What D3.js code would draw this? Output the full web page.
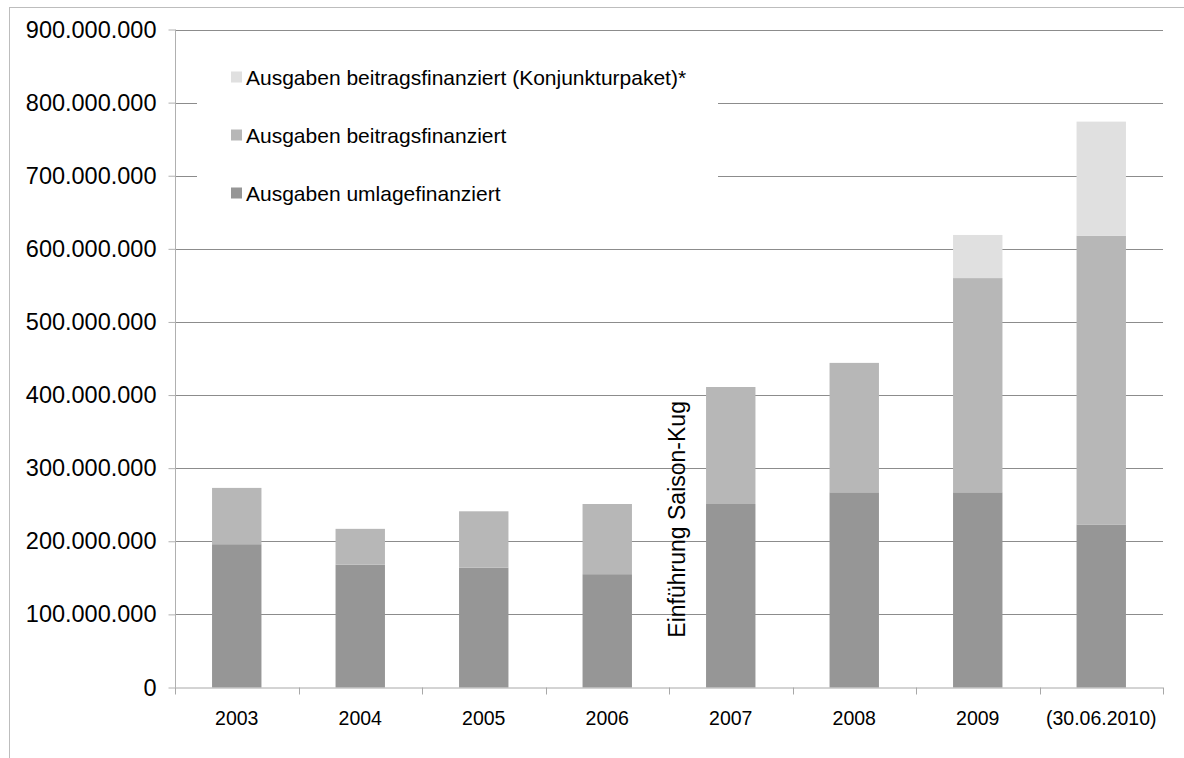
<!DOCTYPE html>
<html lang="de">
<head>
<meta charset="UTF-8">
<title>Ausgaben Saison-Kug</title>
<script src="https://d3js.org/d3.v7.min.js"></script>
<style>
  body { margin: 0; background: #fff; }
  svg { display: block; font-family: "Liberation Sans", Arial, sans-serif; }
</style>
</head>
<body>
<div id="chart"></div>
<script>
// Daten (Euro)
const years = ["2003", "2004", "2005", "2006", "2007", "2008", "2009", "(30.06.2010)"];
const umlage = [196e6, 168e6, 164e6, 155e6, 251e6, 267e6, 267e6, 223e6];
const beitrag = [77e6, 49e6, 77e6, 96e6, 160e6, 177e6, 293e6, 395e6];
const konjunktur = [0, 0, 0, 0, 0, 0, 59e6, 156e6];
const yTicks = [0, 100e6, 200e6, 300e6, 400e6, 500e6, 600e6, 700e6, 800e6, 900e6];
const seriesNames = {
  umlage: "Ausgaben umlagefinanziert",
  beitrag: "Ausgaben beitragsfinanziert",
  konjunktur: "Ausgaben beitragsfinanziert (Konjunkturpaket)*"
};
const annotation = "Einführung Saison-Kug";

const width = 1184, height = 758;
const plotLeft = 175, plotRight = 1163, plotTop = 29.5, plotBottom = 687.5;

const color = { umlage: "#969696", beitrag: "#b7b7b7", konjunktur: "#e0e0e0" };

const de = d3.formatLocale({ decimal: ",", thousands: ".", grouping: [3], currency: ["", " €"] });
const fmt = de.format(",.0f");

const rows = years.map((y, i) => ({ year: y, umlage: umlage[i], beitrag: beitrag[i], konjunktur: konjunktur[i] }));
const keys = ["umlage", "beitrag", "konjunktur"];
const stacked = d3.stack().keys(keys)(rows);

const svg = d3.select("#chart").append("svg")
  .attr("width", width).attr("height", height);

// Rahmen
svg.append("rect")
  .attr("x", 9.5).attr("y", 7.5)
  .attr("width", width).attr("height", height)
  .attr("fill", "none").attr("stroke", "#bdbdbd");

const x = d3.scaleBand().domain(years).range([plotLeft, plotRight]).paddingInner(0.6).paddingOuter(0.3);
const y = d3.scaleLinear().domain([0, 900e6]).range([plotBottom, plotTop]);

// Gitterlinien
svg.append("g")
  .selectAll("line")
  .data(yTicks.filter(d => d > 0))
  .join("line")
  .attr("x1", plotLeft).attr("x2", plotRight)
  .attr("y1", d => Math.round(y(d)) + 0.5).attr("y2", d => Math.round(y(d)) + 0.5)
  .attr("stroke", "#8c8c8c");

// Legende (weisser Hintergrund verdeckt Gitter)
svg.append("rect")
  .attr("x", 197).attr("y", 45).attr("width", 521).attr("height", 170)
  .attr("fill", "#fff");

const legendKeys = ["konjunktur", "beitrag", "umlage"];
const legend = svg.append("g");
legendKeys.forEach((k, i) => {
  const cy = 77 + i * 58;
  legend.append("rect")
    .attr("x", 231).attr("y", cy - 5.5).attr("width", 11).attr("height", 11)
    .attr("fill", color[k]);
  legend.append("text")
    .attr("x", 246).attr("y", cy).attr("dy", "0.36em")
    .attr("font-size", 21).attr("fill", "#000")
    .text(seriesNames[k]);
});

// Balken
svg.append("g")
  .selectAll("g")
  .data(stacked)
  .join("g")
  .attr("fill", d => color[d.key])
  .selectAll("rect")
  .data(d => d.filter(p => p[1] > p[0]))
  .join("rect")
  .attr("x", d => x(d.data.year))
  .attr("width", x.bandwidth())
  .attr("y", d => y(d[1]))
  .attr("height", d => y(d[0]) - y(d[1]));

// Y-Achse
const yAxis = svg.append("g")
  .attr("transform", `translate(${plotLeft + 0.5},0)`)
  .call(d3.axisLeft(y).tickValues(yTicks).tickFormat(fmt).tickSize(7).tickPadding(12));
yAxis.select(".domain").attr("stroke", "#b0b0b0").attr("d", `M0,${plotTop}V${plotBottom}`);
yAxis.selectAll(".tick line").attr("stroke", "#b0b0b0");
yAxis.selectAll(".tick text")
  .attr("font-size", 23.5).attr("fill", "#000")
  .attr("font-family", "\"Liberation Sans\", Arial, sans-serif");

// X-Achse
const xAxis = svg.append("g")
  .attr("transform", `translate(0,${plotBottom + 0.5})`)
  .call(d3.axisBottom(x).tickSize(0).tickPadding(23));
xAxis.select(".domain").attr("stroke", "#a8a8a8").attr("d", `M${plotLeft},0H${plotRight}`);
xAxis.selectAll(".tick text")
  .attr("font-size", 19.5).attr("fill", "#000")
  .attr("font-family", "\"Liberation Sans\", Arial, sans-serif");

// Teilstriche zwischen den Kategorien
const edges = d3.range(years.length + 1).map(i => plotLeft + i * x.step());
svg.append("g")
  .selectAll("line")
  .data(edges)
  .join("line")
  .attr("x1", d => Math.round(d) + 0.5).attr("x2", d => Math.round(d) + 0.5)
  .attr("y1", plotBottom).attr("y2", plotBottom + 7)
  .attr("stroke", "#a8a8a8");

// Anmerkung
const ax = (x("2006") + x.bandwidth() + x("2007")) / 2 + 16;
svg.append("text")
  .attr("transform", `translate(${ax},${y(230e6)}) rotate(-90)`)
  .attr("text-anchor", "middle")
  .attr("font-size", 23).attr("fill", "#000")
  .text(annotation);
</script>
</body>
</html>
